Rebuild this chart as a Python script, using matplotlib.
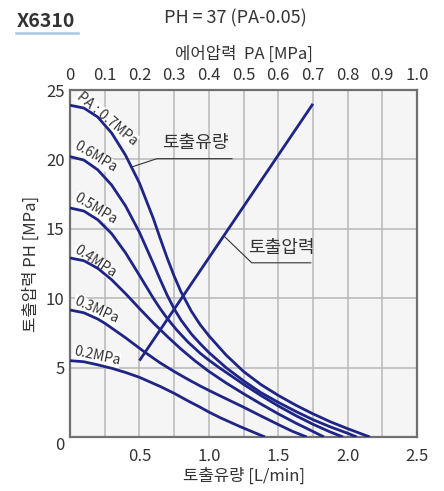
import numpy as np
import matplotlib
matplotlib.use('Agg')
import matplotlib.pyplot as plt
from matplotlib.lines import Line2D

plt.rcParams['font.family'] = ['Noto Sans CJK KR', 'DejaVu Sans']

# discharge flow [L/min] vs discharge pressure [MPa], one curve per air pressure
flow_07 = [0, 0.1, 0.2, 0.3, 0.4, 0.5, 0.6, 0.65, 0.7, 0.75, 0.8, 0.875, 0.937,
           1.0, 1.125, 1.25, 1.375, 1.5, 1.625, 1.75, 1.875, 2.0, 2.08, 2.16]
ph_07 = [23.9, 23.7, 23.05, 21.9, 20.3, 18.3, 15.75, 14.3, 12.9, 11.6, 10.45, 9.05, 8.1,
         7.3, 5.9, 4.72, 3.78, 3.0, 2.3, 1.67, 1.1, 0.6, 0.3, 0]

flow_06 = [0, 0.1, 0.2, 0.3, 0.4, 0.5, 0.6, 0.65, 0.7, 0.75, 0.8, 0.875, 0.937,
           1.0, 1.125, 1.25, 1.375, 1.5, 1.625, 1.75, 1.875, 2.0, 2.066]
ph_06 = [20.2, 19.95, 19.25, 18.15, 16.65, 14.75, 12.5, 11.33, 10.22, 9.24, 8.42, 7.41, 6.73,
         6.09, 4.99, 4.05, 3.2, 2.5, 1.85, 1.25, 0.73, 0.27, 0]

flow_05 = [0, 0.1, 0.2, 0.3, 0.4, 0.5, 0.6, 0.65, 0.7, 0.768, 0.85, 0.937,
           1.0, 1.08, 1.25, 1.375, 1.5, 1.625, 1.75, 1.875, 1.967]
ph_05 = [16.5, 16.28, 15.65, 14.65, 13.27, 11.65, 10.0, 9.24, 8.55, 7.72, 6.84, 6.04,
         5.54, 4.96, 3.8, 2.99, 2.24, 1.55, 0.92, 0.36, 0]

flow_04 = [0, 0.1, 0.2, 0.3, 0.4, 0.5, 0.6, 0.7, 0.8, 0.9,
           1.0, 1.125, 1.25, 1.375, 1.5, 1.625, 1.75, 1.83]
ph_04 = [12.9, 12.7, 12.15, 11.33, 10.33, 9.26, 8.22, 7.25, 6.33, 5.49,
         4.73, 3.89, 3.12, 2.38, 1.67, 1.01, 0.4, 0]

flow_03 = [0, 0.1, 0.2, 0.25, 0.3, 0.4, 0.5, 0.54, 0.648, 0.75, 0.85, 0.937,
           1.0, 1.08, 1.25, 1.375, 1.5, 1.6, 1.705]
ph_03 = [9.15, 8.95, 8.5, 8.2, 7.85, 7.15, 6.4, 6.1, 5.35, 4.72, 4.15, 3.68,
         3.36, 2.97, 2.15, 1.52, 0.9, 0.42, 0]

flow_02 = [0, 0.1, 0.2, 0.3, 0.4, 0.5, 0.648, 0.75, 0.85, 0.937, 1.0, 1.08, 1.225, 1.32, 1.405]
ph_02 = [5.5, 5.42, 5.2, 4.95, 4.65, 4.3, 3.65, 3.15, 2.6, 2.15, 1.8, 1.4, 0.75, 0.35, 0]

# discharge pressure line, read against the air pressure axis (top)
pa_line = [0.2, 0.7]
ph_line = [5.5, 24.0]

curve_labels = ['PA : 0.7MPa', '0.6MPa', '0.5MPa', '0.4MPa', '0.3MPa', '0.2MPa']
flow_ticks = [0.5, 1.0, 1.5, 2.0, 2.5]
ph_ticks = [0, 5, 10, 15, 20, 25]
pa_ticks = [0, 0.1, 0.2, 0.3, 0.4, 0.5, 0.6, 0.7, 0.8, 0.9, 1.0]

navy = '#1e2586'
txt_col = '#333333'

fig = plt.figure(figsize=(4.44, 4.91), dpi=100)
ax = fig.add_axes([0.1577, 0.110, 0.7815, 0.7067])
ax.set_facecolor('#f5f5f5')
ax.set_xlim(0, 2.5)
ax.set_ylim(0, 25)

ax.set_xticks(flow_ticks)
ax.set_xticklabels(['%.1f' % v for v in flow_ticks])
ax.set_xticks(np.arange(0, 2.51, 0.25), minor=True)
ax.set_yticks(ph_ticks)
ax.set_yticklabels([str(v) for v in ph_ticks])
ax.grid(which='both', color='#b8b8b8', lw=1.1)
ax.set_axisbelow(True)
ax.tick_params(which='both', length=0, labelsize=12, colors=txt_col)
ax.tick_params(axis='x', pad=8)
ax.tick_params(axis='y', pad=4)
ax.yaxis.get_major_ticks()[0].label1.set_verticalalignment('top')
for sp in ax.spines.values():
    sp.set_color('#707070')
    sp.set_linewidth(1.6)

ax.set_xlabel('토출유량 [L/min]', fontsize=12, color=txt_col, labelpad=2)
ax.set_ylabel('토출압력 PH [MPa]', fontsize=12, color=txt_col, labelpad=4)

curves = [(flow_07, ph_07), (flow_06, ph_06), (flow_05, ph_05),
          (flow_04, ph_04), (flow_03, ph_03), (flow_02, ph_02)]
for fx, fy in curves:
    ax.plot(fx, fy, color=navy, lw=2.0, solid_capstyle='butt',
            solid_joinstyle='round', zorder=3)

# curve labels along the left ends
label_pos = [(0.04, 24.45, -40), (0.02, 20.8, -31), (0.02, 17.1, -31),
             (0.02, 13.3, -33), (0.02, 9.55, -24), (0.02, 5.9, -12)]
for txt, (lx, ly, rot) in zip(curve_labels, label_pos):
    ax.text(lx, ly, txt, fontsize=10, rotation=rot, rotation_mode='anchor',
            ha='left', va='baseline', color=txt_col, zorder=2.5,
            bbox=dict(facecolor='white', edgecolor='none', pad=0.3))

# leader for 토출유량
ax.plot([0.444, 0.625, 1.167], [19.45, 20.05, 20.05], color=txt_col, lw=0.8, zorder=4)
ax.text(0.9, 20.5, '토출유량', fontsize=13, ha='center', va='bottom', color=txt_col, zorder=4)
# leader for 토출압력
ax.plot([1.117, 1.309, 1.735], [14.4, 12.55, 12.55], color=txt_col, lw=0.8, zorder=4)
ax.text(1.52, 13.0, '토출압력', fontsize=13, ha='center', va='bottom', color=txt_col, zorder=4)

# top axis: air pressure
ax2 = ax.twiny()
ax2.set_xlim(0, 1.0)
ax2.set_ylim(0, 25)
ax2.set_xticks(pa_ticks)
ax2.set_xticklabels(['0' if v == 0 else '%.1f' % v for v in pa_ticks])
ax2.tick_params(length=0, labelsize=12, colors=txt_col, pad=4)
for sp in ax2.spines.values():
    sp.set_visible(False)
ax2.set_xlabel('에어압력  PA [MPa]', fontsize=12, color=txt_col, labelpad=6)
ax2.plot(pa_line, ph_line, color=navy, lw=2.0, solid_capstyle='butt', zorder=3)

fig.text(0.038, 0.957, 'X6310', fontsize=14, weight='bold', color=txt_col, va='center')
fig.add_artist(Line2D([0.036, 0.176], [0.932, 0.932], color='#a9c6e3', lw=1.8))
fig.text(0.53, 0.962, 'PH = 37 (PA-0.05)', fontsize=13, ha='center', va='center', color=txt_col)

fig.savefig('out.png', dpi=100, facecolor='white')
